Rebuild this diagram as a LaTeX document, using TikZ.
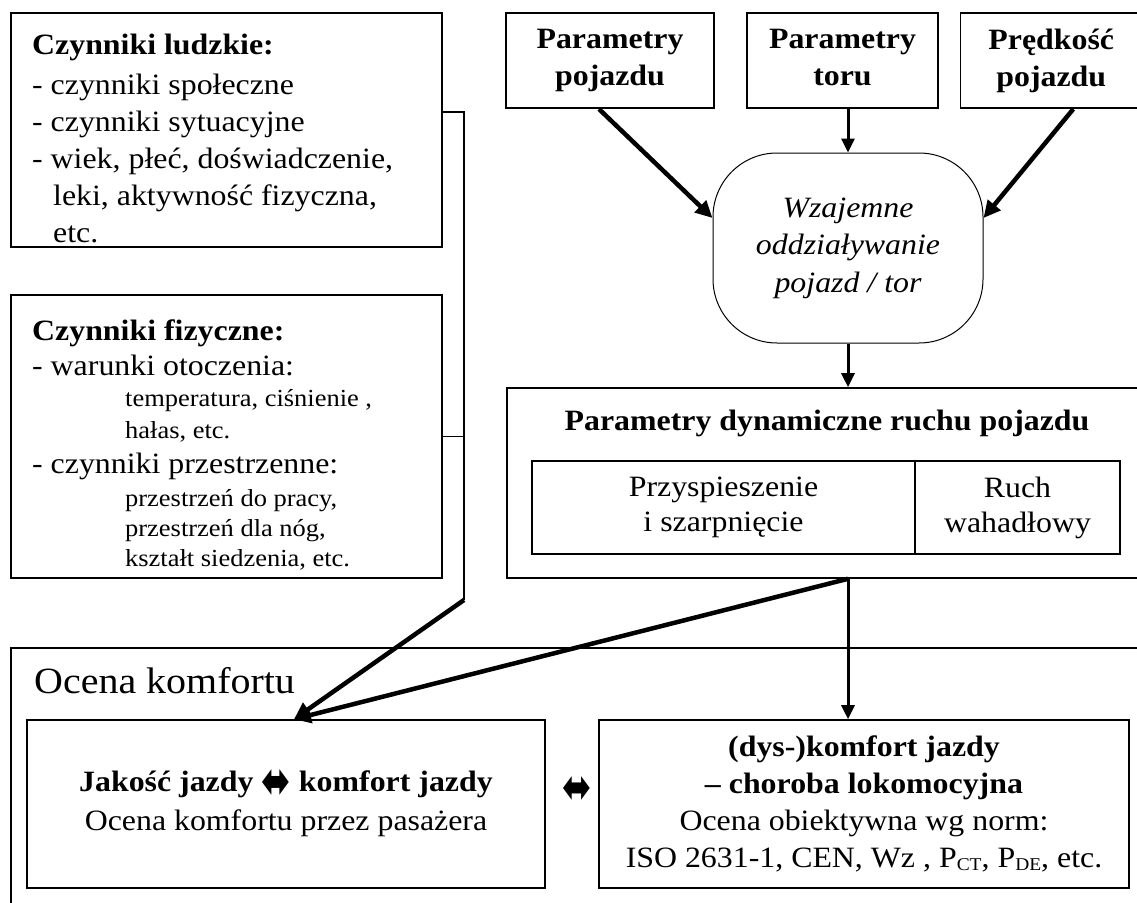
\documentclass[tikz,border=0pt]{standalone}
\usepackage{fontspec}
\usepackage{graphicx}
\setmainfont{Liberation Serif}[FakeStretch=1.08]
\newfontfamily\symf{DejaVu Sans}
\newcommand{\dblarrow}{\raisebox{-6pt}{\scalebox{1.1}[1.5]{\symf\fontsize{32}{32}\selectfont ⬌}}}
\usetikzlibrary{arrows.meta}
\begin{document}
\begin{tikzpicture}[x=1pt,y=-1pt,
  box/.style={draw, line width=1.6pt, inner sep=0pt, align=center},
  txt/.style={inner sep=0pt, align=left, anchor=north west},
  bold/.style={font=\fontsize{29.5}{37}\selectfont\bfseries},
  arr/.style={line width=4.5pt, -{Triangle[length=17pt,width=16pt]}},
  thinarr/.style={line width=3pt, -{Triangle[length=14pt,width=13pt]}},
  conn/.style={line width=1.8pt},
  font=\fontsize{29.5}{37}\selectfont]
\useasboundingbox (0,0) rectangle (1137,902);
\clip (0,0) rectangle (1137,902);
\fill[white] (0,0) rectangle (1137,902);

% left boxes
\node[box, minimum width=431pt, minimum height=234pt] (h1) at (226.5,130) {};
\node[txt] (h1t) at (32,34) {\textbf{Czynniki ludzkie:}\\[3pt]
- czynniki społeczne\\
- czynniki sytuacyjne\\
- wiek, płeć, doświadczenie,\\
\hspace*{21pt}leki, aktywność fizyczna,\\
\hspace*{21pt}etc.};

\node[box, minimum width=431pt, minimum height=283pt] (h2) at (226.5,436.5) {};
\node[txt] (h2t) at (32,320) {\textbf{Czynniki fizyczne:}\\[-2pt]
- warunki otoczenia:\\[-6pt]
\hspace*{93pt}{\fontsize{24.5}{31}\selectfont temperatura, ciśnienie ,}\\[-5pt]
\hspace*{93pt}{\fontsize{24.5}{31}\selectfont hałas, etc.}\\[-2pt]
- czynniki przestrzenne:\\[-4pt]
\hspace*{93pt}{\fontsize{24.5}{31}\selectfont przestrzeń do pracy,}\\[-7pt]
\hspace*{93pt}{\fontsize{24.5}{31}\selectfont przestrzeń dla nóg,}\\[-7pt]
\hspace*{93pt}{\fontsize{24.5}{31}\selectfont kształt siedzenia, etc.}};

% top boxes
\node[box, bold, minimum width=207.5pt, minimum height=95.5pt] (pA) at (610,60.5) {\vphantom{Ę}Parametry\\pojazdu\vphantom{j}};
\node[box, bold, minimum width=191pt, minimum height=95.5pt] (pB) at (842.5,60.5) {\vphantom{Ę}Parametry\\toru\vphantom{j}};
\node[box, bold, minimum width=181.5pt, minimum height=95.5pt] (pC) at (1051.25,60.5) {\vphantom{Ę}Prędkość\\pojazdu\vphantom{j}};

% interaction
\node[draw, line width=1pt, rounded corners=64pt, minimum width=270pt, minimum height=190pt,
      align=center, font=\fontsize{29.5}{37.5}\selectfont\itshape] (ell) at (848,248)
      {Wzajemne\\oddziaływanie\\pojazd / tor};

% dynamic parameters
\node[box, minimum width=640pt, minimum height=190pt] (dyn) at (827,483) {};
\node[inner sep=0pt, anchor=base, bold] (dynt) at (827,430) {Parametry dynamiczne ruchu pojazdu};
\node[box, minimum width=383pt, minimum height=93pt, font=\fontsize{29.5}{35}\selectfont] (acc) at (723.5,507.5) {Przyspieszenie\\i szarpnięcie};
\node[box, minimum width=205pt, minimum height=93pt, font=\fontsize{29.5}{35}\selectfont] (osc) at (1017.5,507.5) {Ruch\\wahadłowy};

% comfort evaluation container
\draw[line width=1.6pt] (1150,648) -- (11,648) -- (11,910);
\node[inner sep=0pt, anchor=base west, font=\fontsize{37}{44}\selectfont] (ocena) at (34,693) {Ocena komfortu};

\node[box, minimum width=518pt, minimum height=168pt] (jak) at (286,804)
  {\textbf{Jakość jazdy \smash{\dblarrow} komfort jazdy}\\[2pt]Ocena komfortu przez pasażera};
\node[inner sep=0pt] (dbl) at (577,790) {\dblarrow};
\node[box, minimum width=530pt, minimum height=168pt] (dys) at (864,804)
  {\textbf{(dys-)komfort jazdy}\\\textbf{– choroba lokomocyjna}\\Ocena obiektywna wg norm:\\
   ISO 2631-1, CEN, Wz , P\raisebox{-3pt}{\fontsize{18}{18}\selectfont CT}, P\raisebox{-3pt}{\fontsize{18}{18}\selectfont DE}, etc.};

% connectors
\coordinate (bend) at (464,600);
\draw[conn] ([yshift=18pt]h1.east) -| (bend);
\draw[conn] (h2.east) -- (h2.east -| bend);
\draw[arr] (bend) -- ([xshift=8pt]jak.north);
\draw[arr] ([xshift=21pt]dyn.south) -- ([xshift=8pt]jak.north);
\draw[thinarr] ([xshift=21pt]dyn.south) -- ([xshift=21pt]dyn.south |- dys.north);

\draw[arr] ([xshift=-11pt]pA.south) -- ([yshift=30pt]ell.west);
\draw[thinarr] (ell.north |- pB.south) -- (ell.north);
\draw[arr] ([xshift=22pt]pC.south) -- ([yshift=30pt]ell.east);
\draw[thinarr] (ell.south) -- (ell.south |- dyn.north);
\end{tikzpicture}
\end{document}
